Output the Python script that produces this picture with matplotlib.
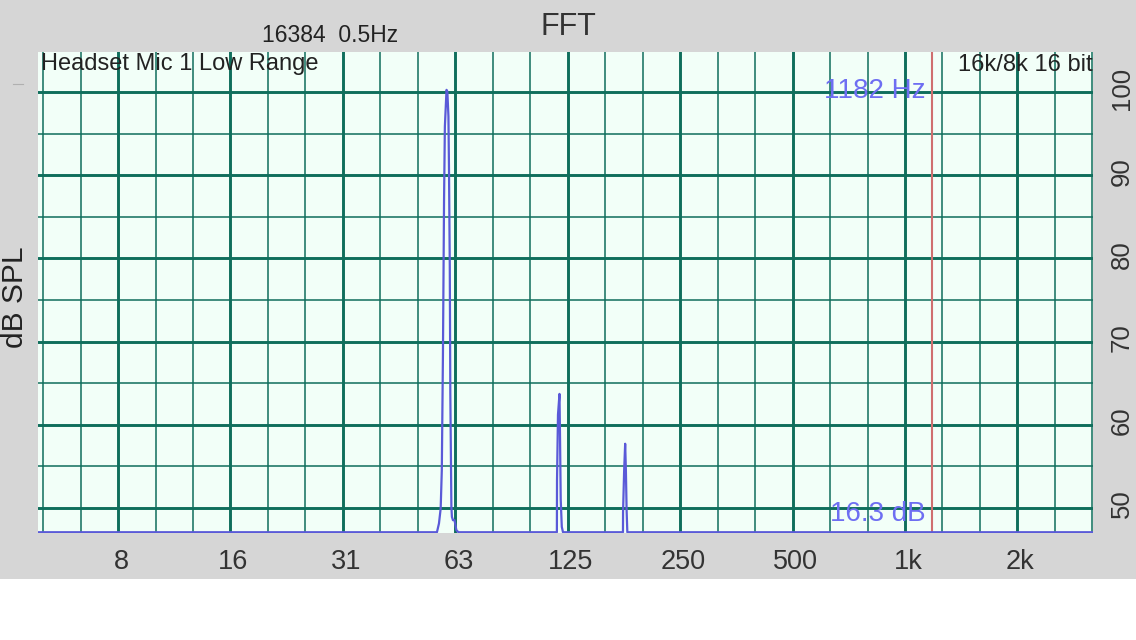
import numpy as np
import matplotlib
matplotlib.use("Agg")
import matplotlib.pyplot as plt
import matplotlib.transforms as mtransforms
from matplotlib.patches import Rectangle
from matplotlib.lines import Line2D

# spectrum trace (Hz, dB SPL)
freq_hz = [4.76, 55.8, 56.5, 57.1, 57.5, 57.9, 58.3, 58.6, 59.2, 59.5, 59.9, 60.1,
           60.4, 60.6, 61.0, 61.2, 61.6, 62.2, 62.9, 63.7,
           116.9, 117.0, 117.7, 118.8, 119.2, 119.7, 120.5, 121.4,
           175.7, 175.8, 177.0, 178.1, 178.9, 179.7, 180.5, 3193]
level_db = [47.05, 47.05, 48.1, 49.9, 54.5, 68.2, 87.0, 95.9, 100.3, 100.1, 97.1, 91.0,
            79.0, 63.8, 50.1, 48.9, 48.5, 48.5, 47.3, 47.05,
            47.05, 53.3, 61.2, 63.7, 58.4, 51.0, 47.7, 47.05,
            47.05, 49.5, 54.5, 57.7, 54.5, 49.7, 47.05, 47.05]

octave_hz = [1000 * 2.0 ** k for k in range(-7, 2)]
octave_labels = ["8", "16", "31", "63", "125", "250", "500", "1k", "2k"]
third_hz = [1000 * 2.0 ** (n / 3) for n in range(-23, 6) if n % 3 != 0]
db_major = [50, 60, 70, 80, 90, 100]
db_minor = [55, 65, 75, 85, 95]

cursor_hz = 1182
cursor_text = "1182 Hz"
level_text = "16.3 dB"

GRID = "#0f6e5c"
BLUE = "#5a5ad8"
plt.rcParams["font.family"] = ["Liberation Sans", "DejaVu Sans"]

fig = plt.figure(figsize=(11.36, 6.4), dpi=100)
fig.patch.set_facecolor("white")
fig.patches.append(Rectangle((0, 61 / 640), 1, 1, transform=fig.transFigure,
                             facecolor="#d6d6d6", edgecolor="none", zorder=-10))
# small stray dash at the left edge
fig.add_artist(Line2D([13 / 1136, 23 / 1136], [1 - 84 / 640] * 2,
                      transform=fig.transFigure, color="#b0b0b0", linewidth=0.8))

ax = fig.add_axes([0.0332, 0.1667, 0.9292, 0.7520])
ax.set_facecolor("#f2fff8")
ax.set_xscale("log")
ax.set_xlim(4.76, 3193)
ax.set_ylim(46.92, 104.85)

ax.set_xticks(octave_hz, octave_labels)
ax.set_xticks(third_hz, minor=True)
ax.xaxis.set_minor_formatter(matplotlib.ticker.NullFormatter())
ax.set_yticks(db_major, [str(v) for v in db_major])
ax.set_yticks(db_minor, minor=True)
ax.yaxis.tick_right()
ax.tick_params(which="both", length=0)
ax.tick_params(axis="x", labelsize=19.5, pad=11, labelcolor="#333333")
ax.tick_params(axis="y", labelsize=18.5, pad=12, labelcolor="#333333",
               labelrotation=90)
up = mtransforms.ScaledTranslation(0, 4 / 100, fig.dpi_scale_trans)
right = mtransforms.ScaledTranslation(3 / 100, 0, fig.dpi_scale_trans)
for lab in ax.get_yticklabels():
    lab.set_va("center")
    lab.set_transform(lab.get_transform() + up)
for lab in ax.get_xticklabels():
    lab.set_transform(lab.get_transform() + right)

ax.grid(which="major", color=GRID, linewidth=2.1)
ax.grid(which="minor", color=GRID, linewidth=1.1)
ax.set_axisbelow(True)
for s in ax.spines.values():
    s.set_visible(False)

ax.axvline(cursor_hz, color="#cf6f6f", linewidth=1.5, zorder=3)
ax.plot(freq_hz, level_db, color=BLUE, linewidth=1.6, zorder=4)

ax.text(0.003, 0.999, "Headset Mic 1 Low Range", transform=ax.transAxes,
        ha="left", va="top", fontsize=17, color="#222222")
ax.text(0.999, 0.995, "16k/8k 16 bit", transform=ax.transAxes,
        ha="right", va="top", fontsize=17, color="#222222")
ax.text(0.8415, 0.919, cursor_text, transform=ax.transAxes,
        ha="right", va="center", fontsize=20, color="#6e6ef2")
ax.text(0.8415, 0.040, level_text, transform=ax.transAxes,
        ha="right", va="center", fontsize=20, color="#6e6ef2")

fig.text(568 / 1136, 1 - 27 / 640, "FFT", ha="center", va="center",
         fontsize=22, color="#333333")
fig.text(330 / 1136, 1 - 36 / 640, "16384  0.5Hz", ha="center", va="center",
         fontsize=16.5, color="#222222")
fig.text(15 / 1136, 1 - 297 / 640, "dB SPL", ha="center", va="center",
         rotation=90, fontsize=21.5, color="#222222")

fig.savefig("out.png", dpi=100)
